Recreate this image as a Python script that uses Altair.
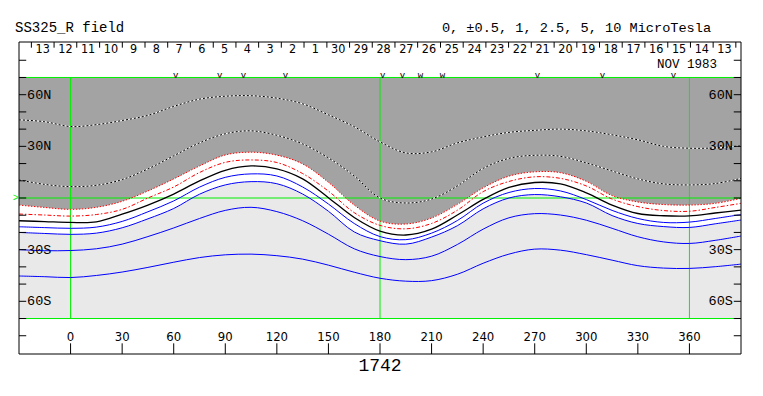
import altair as alt
import pandas as pd

# ---------------- data ----------------
lons = [-30, -15, 0, 15, 30, 45, 60, 75, 90, 105, 120, 135, 150, 165, 180, 195,
        210, 225, 240, 255, 270, 285, 300, 315, 330, 345, 360, 375, 390]

pos5 = [45.4, 44.3, 41.5, 42.6, 45.0, 48.0, 53.2, 57.4, 59.1, 59.4, 58.0, 54.7, 48.3, 41.4, 32.6,
        26.2, 26.8, 32.0, 35.5, 38.1, 39.3, 40.0, 39.0, 36.7, 33.8, 30.0, 28.9, 29.1, 30.3]
pos25 = [10.5, 7.9, 6.6, 7.4, 10.7, 16.9, 24.5, 32.0, 37.3, 39.0, 36.4, 31.4, 23.3, 12.8, 0.0,
         -2.9, -0.6, 7.0, 17.2, 23.0, 24.8, 24.2, 20.4, 15.7, 11.1, 8.2, 7.6, 8.4, 11.4]
pos1 = [-4.1, -5.5, -6.6, -5.4, -1.9, 4.1, 11.1, 18.6, 25.0, 26.6, 24.9, 19.8, 9.1, -4.1, -13.4,
        -15.1, -11.6, -3.7, 5.9, 12.7, 15.2, 14.7, 9.7, 1.4, -2.3, -3.8, -4.1, -3.1, -0.2]
pos05 = [-9.3, -9.9, -10.5, -9.6, -6.6, 0.0, 6.4, 14.8, 20.7, 22.1, 20.6, 14.2, 4.0, -8.5, -15.9,
         -17.9, -14.8, -7.1, 3.7, 9.6, 12.3, 11.4, 7.0, -0.6, -5.0, -7.3, -7.7, -5.5, -3.1]
neutral = [-13.2, -13.7, -14.2, -13.9, -9.4, -4.1, 2.3, 9.9, 16.1, 18.6, 16.9, 11.1, 0.2, -11.3, -19.2,
           -21.5, -18.1, -9.9, -0.8, 6.2, 9.0, 8.2, 3.0, -4.1, -9.0, -10.3, -10.4, -8.7, -7.0]
neg05 = [-16.7, -17.2, -17.6, -16.9, -13.6, -8.0, -1.7, 6.3, 12.0, 14.0, 12.8, 6.4, -3.5, -14.8, -22.4,
         -24.2, -20.4, -13.1, -3.0, 3.2, 5.5, 4.1, -0.9, -7.2, -11.9, -14.2, -14.0, -11.9, -9.6]
neg1 = [-20.0, -20.6, -21.1, -20.4, -17.3, -12.1, -6.1, 2.2, 7.6, 9.5, 8.3, 2.3, -7.7, -19.7, -24.8,
        -26.8, -22.7, -16.1, -6.3, 0.0, 2.0, 0.7, -2.9, -10.2, -14.8, -16.6, -17.1, -15.0, -12.8]
neg25 = [-30.0, -30.6, -30.5, -29.5, -26.8, -22.4, -17.4, -11.9, -7.2, -5.4, -7.9, -13.2, -21.0, -29.5, -34.0,
         -35.8, -33.8, -27.0, -18.1, -11.5, -9.1, -9.9, -12.9, -17.6, -22.5, -25.5, -26.4, -24.6, -22.1]
neg5 = [-45.3, -45.7, -46.2, -45.0, -43.0, -40.3, -37.3, -34.6, -33.0, -32.6, -33.5, -35.5, -39.0, -43.1, -46.6,
        -48.3, -48.0, -44.3, -37.9, -32.6, -29.7, -30.3, -32.9, -36.1, -39.3, -40.7, -40.9, -39.9, -38.4]

lat_label_vals = [60, 30, -30, -60]
lat_label_text = ["60N", "30N", "30S", "60S"]
lat_tick_vals = [-80, -70, -60, -50, -40, -30, -20, -10, 0, 10, 20, 30, 40, 50, 60, 70, 80]
lon_tick_vals = [0, 30, 60, 90, 120, 150, 180, 210, 240, 270, 300, 330, 360]
green_lons = [0, 180, 360]
green_lats = [-70, 0, 70]

date_text = ["13", "12", "11", "10", "9", "8", "7", "6", "5", "4", "3", "2", "1", "30", "29", "28",
             "27", "26", "25", "24", "23", "22", "21", "20", "19", "18", "17", "16", "15", "14", "13"]
date_lons = [-16.2, -3.0, 10.2, 23.5, 36.7, 49.9, 63.1, 76.3, 89.6, 102.8, 116.0, 129.2, 142.4, 155.7,
             168.9, 182.1, 195.3, 208.5, 221.8, 235.0, 248.2, 261.4, 274.6, 287.9, 301.1, 314.3,
             327.5, 340.7, 354.0, 367.2, 380.4]
date_tick_lons = [-22.8, -9.6, 3.6, 16.9, 30.1, 43.3, 56.5, 69.7, 83.0, 96.2, 109.4, 122.6, 135.8,
                  149.1, 162.3, 175.5, 188.7, 201.9, 215.2, 228.4, 241.6, 254.8, 268.0, 281.3,
                  294.5, 307.7, 320.9, 334.1, 347.4, 360.6, 373.8, 387.0]
mark_lons = [61.1, 86.7, 100.6, 125.0, 181.5, 193.1, 203.6, 216.4, 271.6, 309.4, 350.7]
mark_text = ["v", "v", "v", "v", "v", "v", "w", "w", "v", "v", "v"]

title_left = "SS325_R field"
title_right = "0, \u00b10.5, 1, 2.5, 5, 10 MicroTesla"
month_text = "NOV 1983"
rotation_text = "1742"

# ---------------- tables ----------------
df = pd.DataFrame({"lon": lons, "pos5": pos5, "pos25": pos25, "pos1": pos1, "pos05": pos05,
                   "neutral": neutral, "neg05": neg05, "neg1": neg1, "neg25": neg25, "neg5": neg5})
df["top"] = 70.0

def long(cols):
    return df.melt(id_vars=["lon"], value_vars=cols, var_name="series", value_name="lat")

XS = alt.Scale(domain=[-30, 390], nice=False, zero=False)
YS = alt.Scale(domain=[-90.6, 90.6], nice=False, zero=False)
MONO = "Liberation Mono"
NARROW = "Liberation Sans Narrow, DejaVu Sans Condensed, Liberation Sans"
GREEN = "#00f000"
INTERP = "catmull-rom"

def X(f="lon"):
    return alt.X(f + ":Q", scale=XS, axis=None)

def Y(f="lat"):
    return alt.Y(f + ":Q", scale=YS, axis=None)

layers = []

# background (negative polarity, light gray)
bg = pd.DataFrame({"x": [-30], "x2": [390], "y": [-70], "y2": [70]})
layers.append(alt.Chart(bg).mark_rect(color="#e9e9e9").encode(
    x=X("x"), x2="x2:Q", y=Y("y"), y2="y2:Q"))
# positive region (dark gray)
layers.append(alt.Chart(df).mark_area(color="#a3a3a3", interpolate=INTERP).encode(
    x=X(), y=Y("pos1"), y2="top:Q"))
# white band around the neutral line
layers.append(alt.Chart(df).mark_area(color="white", interpolate=INTERP).encode(
    x=X(), y=Y("neg1"), y2="pos1:Q"))

# green lines
gh = pd.DataFrame({"x": [-30] * 3, "x2": [390] * 3, "y": green_lats})
layers.append(alt.Chart(gh).mark_rule(color=GREEN, strokeWidth=1).encode(
    x=X("x"), x2="x2:Q", y=Y("y")))
gv = pd.DataFrame({"x": green_lons, "y": [-70] * 3, "y2": [70] * 3})
layers.append(alt.Chart(gv).mark_rule(color=GREEN, strokeWidth=1).encode(
    x=X("x"), y=Y("y"), y2="y2:Q"))

# contours
dots = long(["pos5", "pos25"])
layers.append(alt.Chart(dots).mark_line(color="white", strokeWidth=1, interpolate=INTERP).encode(
    x=X(), y=Y(), detail="series:N"))
layers.append(alt.Chart(dots).mark_line(color="black", strokeWidth=1, strokeDash=[2, 2],
                                        interpolate=INTERP).encode(
    x=X(), y=Y(), detail="series:N"))
layers.append(alt.Chart(long(["pos1"])).mark_line(color="red", strokeWidth=1, strokeDash=[1.5, 1.5],
                                                  interpolate=INTERP).encode(x=X(), y=Y()))
layers.append(alt.Chart(long(["pos05"])).mark_line(color="red", strokeWidth=1, strokeDash=[4, 2, 1.5, 2],
                                                   interpolate=INTERP).encode(x=X(), y=Y()))
layers.append(alt.Chart(long(["neg05", "neg1", "neg25", "neg5"])).mark_line(
    color="#0000ff", strokeWidth=1, interpolate=INTERP).encode(x=X(), y=Y(), detail="series:N"))
layers.append(alt.Chart(long(["neutral"])).mark_line(color="black", strokeWidth=1.3,
                                                     interpolate=INTERP).encode(x=X(), y=Y()))

# latitude ticks both sides
lt_left = pd.DataFrame({"x": [-30] * len(lat_tick_vals), "x2": [-25.8] * len(lat_tick_vals), "y": lat_tick_vals})
lt_right = pd.DataFrame({"x": [385.8] * len(lat_tick_vals), "x2": [390] * len(lat_tick_vals), "y": lat_tick_vals})
for t in (lt_left, lt_right):
    layers.append(alt.Chart(t).mark_rule(color="black", strokeWidth=1).encode(
        x=X("x"), x2="x2:Q", y=Y("y")))
# longitude ticks at bottom
lon_t = pd.DataFrame({"x": lon_tick_vals, "y": [-84.4] * len(lon_tick_vals), "y2": [-90.6] * len(lon_tick_vals)})
layers.append(alt.Chart(lon_t).mark_rule(color="black", strokeWidth=1).encode(
    x=X("x"), y=Y("y"), y2="y2:Q"))
# date separators at top
dt = pd.DataFrame({"x": date_tick_lons, "y": [90.6] * len(date_tick_lons), "y2": [87.3] * len(date_tick_lons)})
layers.append(alt.Chart(dt).mark_rule(color="black", strokeWidth=1).encode(
    x=X("x"), y=Y("y"), y2="y2:Q"))

# frame
fr = pd.DataFrame({"x": [-30], "x2": [390], "y": [-90.6], "y2": [90.6]})
layers.append(alt.Chart(fr).mark_rect(filled=False, stroke="black", strokeWidth=1).encode(
    x=X("x"), x2="x2:Q", y=Y("y"), y2="y2:Q"))

# texts
def text_layer(lon_list, lat_list, txt, align, font, size, color="black", baseline="middle"):
    t = pd.DataFrame({"x": lon_list, "y": lat_list, "t": txt})
    return alt.Chart(t).mark_text(align=align, baseline=baseline, font=font, fontSize=size,
                                  color=color).encode(x=X("x"), y=Y("y"), text="t:N")

layers.append(text_layer([-25.3] * 4, lat_label_vals, lat_label_text, "left", MONO, 13.5))
layers.append(text_layer([385.3] * 4, lat_label_vals, lat_label_text, "right", MONO, 13.5))
layers.append(text_layer(lon_tick_vals, [-80.7] * len(lon_tick_vals),
                         [str(v) for v in lon_tick_vals], "center", NARROW, 13))
layers.append(text_layer(date_lons, [86.3] * len(date_lons), date_text, "center", NARROW, 12.5))
layers.append(text_layer(mark_lons, [71.3] * len(mark_lons), mark_text, "center", MONO, 9))
layers.append(text_layer([376.0], [77.9], [month_text], "right", MONO, 12.5))
layers.append(text_layer([-32.3], [99.0], [title_left], "left", MONO, 14))
layers.append(text_layer([372.6], [99.0], [title_right], "right", MONO, 13.6))
layers.append(text_layer([180.0], [-97.6], [rotation_text], "center", MONO, 18))
layers.append(text_layer([-30.2], [0.0], [">"], "right", MONO, 10, color=GREEN))

chart = alt.layer(*layers).properties(
    width=722, height=312,
    autosize=alt.AutoSizeParams(type="none"),
    padding={"left": 11, "top": 34, "right": 10, "bottom": 30},
    background="white",
).configure_view(stroke=None)

chart.save("out.html", embed_options={"renderer": "svg", "actions": False})
